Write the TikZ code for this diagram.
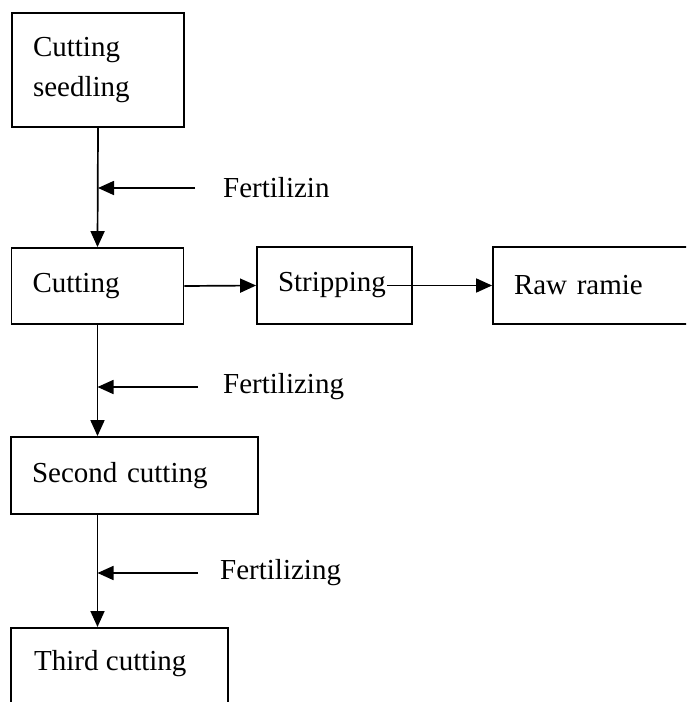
\documentclass[tikz,border=0pt]{standalone}
\usepackage{fontspec}
\setmainfont{Liberation Serif}
\usetikzlibrary{arrows.meta}
\begin{document}
\begin{tikzpicture}[x=1pt,y=-1pt,
  box/.style={draw=black,line width=1.8pt,rectangle,inner xsep=21pt,inner ysep=0pt,
    align=left,font=\fontsize{29}{37}\selectfont},
  lbl/.style={inner sep=0pt,anchor=west,font=\fontsize{29}{37}\selectfont},
  arr/.style={line width=1.7pt,-{Triangle[length=16pt,width=14pt]}}]
\fill[white] (0,0) rectangle (686,702);
\clip (0,0) rectangle (686,702);
% boxes
\node[box,minimum width=172pt,minimum height=114pt,text width=130pt,font=\fontsize{29}{40}\selectfont] (b1) at (98,70) {Cutting\\seedling};
\node[box,minimum width=172pt,minimum height=76pt,text width=130pt] (b2) at (97.5,286) {Cutting};
\node[box,minimum width=155pt,minimum height=77pt,text width=113pt] (strip) at (334.5,285.5) {Stripping};
\node[box,minimum width=205pt,minimum height=77pt,text width=163pt] (raw) at (595.5,285.5) {Raw ramie};
\node[box,minimum width=247pt,minimum height=77pt,text width=205pt] (b3) at (134.5,475.5) {Second cutting};
\node[box,minimum width=217pt,minimum height=100pt,text width=175pt,anchor=north] (b4) at (119.5,627) {};
\node[lbl] (t4) at (34,664) {Third cutting};
% fertilizing labels
\node[lbl] (f1) at (223,188) {Fertilizin};
\node[lbl] (f2) at (223,387) {Fertilizing};
\node[lbl] (f3) at (220,573) {Fertilizing};
% junctions on the main line
\coordinate (j1) at (98,188);
\coordinate (j2) at (97.5,387);
\coordinate (j3) at (97.5,573);
% vertical flow
\draw[arr] (b1.south) -- (b2.north);
\draw[arr] (b2.south) -- (b2.south |- b3.north);
\draw[arr] (b3.south -| b2.south) -- (b4.north -| b2.south);
% side inputs
\draw[arr] ([xshift=-28pt]f1.west) -- (j1);
\draw[arr] ([xshift=-25pt]f2.west) -- (j2);
\draw[arr] ([xshift=-22pt]f3.west) -- (j3);
% horizontal flow
\draw[arr] (b2.east) -- (strip.west);
\draw[arr] ([xshift=-26pt]strip.east) -- (raw.west);
\end{tikzpicture}
\end{document}
